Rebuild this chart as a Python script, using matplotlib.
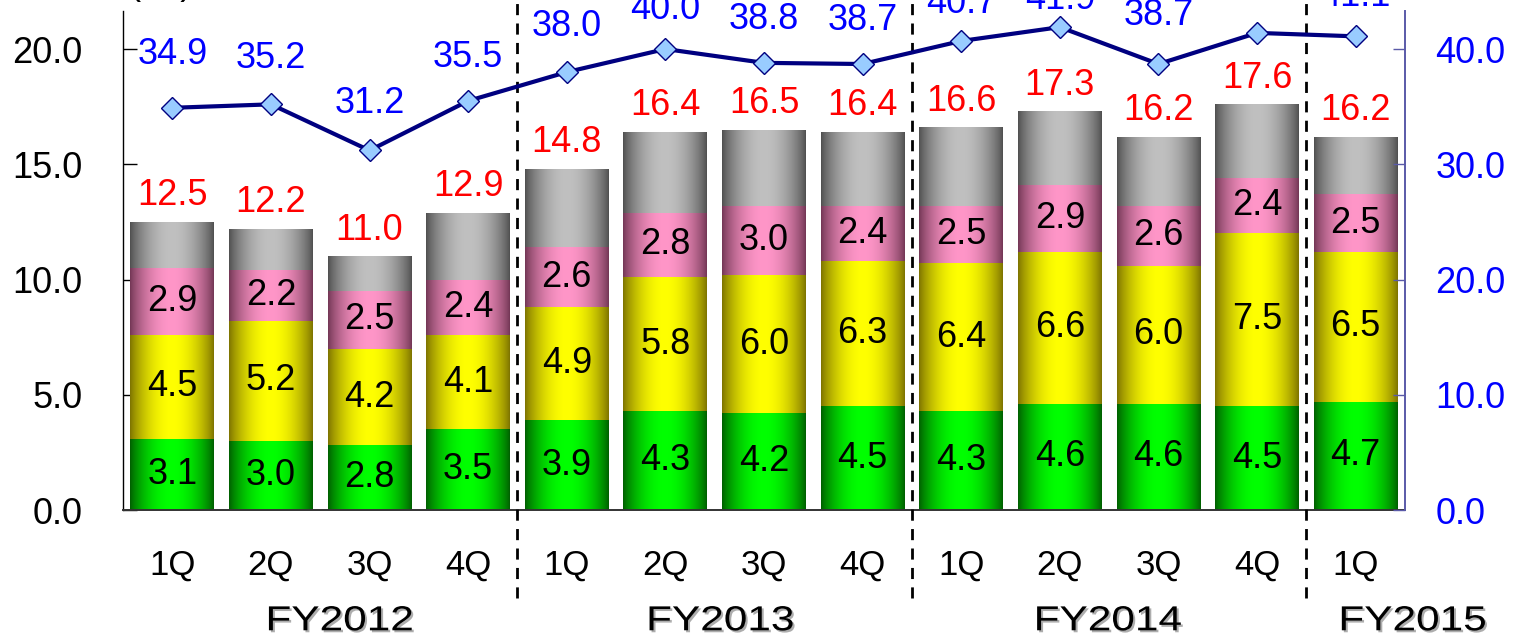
import numpy as np
import matplotlib
matplotlib.use("Agg")
import matplotlib.pyplot as plt
import matplotlib.patheffects as pe
from matplotlib.transforms import Affine2D

plt.rcParams['font.family'] = ['Liberation Sans', 'DejaVu Sans']

# ---- data ----
quarters = ["1Q", "2Q", "3Q", "4Q", "1Q", "2Q", "3Q", "4Q", "1Q", "2Q", "3Q", "4Q", "1Q"]
fiscal_years = ["FY2012", "FY2013", "FY2014", "FY2015"]
seg_green = [3.1, 3.0, 2.8, 3.5, 3.9, 4.3, 4.2, 4.5, 4.3, 4.6, 4.6, 4.5, 4.7]
seg_yellow = [4.5, 5.2, 4.2, 4.1, 4.9, 5.8, 6.0, 6.3, 6.4, 6.6, 6.0, 7.5, 6.5]
seg_pink = [2.9, 2.2, 2.5, 2.4, 2.6, 2.8, 3.0, 2.4, 2.5, 2.9, 2.6, 2.4, 2.5]
seg_gray = [2.0, 1.8, 1.5, 2.9, 3.4, 3.5, 3.3, 3.2, 3.4, 3.2, 3.0, 3.2, 2.5]
totals = [12.5, 12.2, 11.0, 12.9, 14.8, 16.4, 16.5, 16.4, 16.6, 17.3, 16.2, 17.6, 16.2]
ratio = [34.9, 35.2, 31.2, 35.5, 38.0, 40.0, 38.8, 38.7, 40.7, 41.9, 38.7, 41.4, 41.1]

# label placement (pixels above the marker) - styling only
ratio_label_gap_px = [44, 36, 37, 34, 36, 30, 34, 34, 28, 18, 39, 36, 30]

W, H = 1513, 640
fig = plt.figure(figsize=(W / 100, H / 100), dpi=100)
ax = fig.add_axes([123 / W, 130 / H, (1405 - 123) / W, 499 / H])
ax2 = ax.twinx()

x = np.arange(len(quarters))
FS = 26
PX2PT = 72 / 100


class StretchShadow(pe.AbstractPathEffect):
    """Horizontally stretch a text path about its centre and add a drop shadow."""

    def __init__(self, sx=1.0, shadow=(0.68, 0.68, 0.68), offset=(2, -2)):
        super().__init__()
        self.sx = sx
        self.shadow = shadow
        self.off = offset

    def draw_path(self, renderer, gc, tpath, affine, rgbFace=None):
        ext = affine.transform_path(tpath).get_extents()
        cx = 0.5 * (ext.x0 + ext.x1)
        new_aff = affine + Affine2D().translate(-cx, 0).scale(self.sx, 1).translate(cx, 0)
        gc0 = renderer.new_gc()
        gc0.copy_properties(gc)
        gc0.set_foreground(self.shadow)
        renderer.draw_path(gc0, tpath, new_aff + Affine2D().translate(*self.off), self.shadow)
        gc0.restore()
        renderer.draw_path(gc, tpath, new_aff, rgbFace)


def gradient(dark, light, n=128):
    t = np.linspace(0, 1, n)
    w = np.sin(np.pi * t) ** 0.8
    dark = np.array(dark) / 255.0
    light = np.array(light) / 255.0
    g = dark[None, :] + (light - dark)[None, :] * w[:, None]
    return g[None, :, :]


series = [
    (seg_green, (0, 95, 0), (0, 255, 0), True),
    (seg_yellow, (125, 115, 0), (255, 255, 0), True),
    (seg_pink, (115, 55, 85), (255, 150, 200), True),
    (seg_gray, (80, 80, 80), (192, 192, 192), False),
]

bottom = np.zeros(len(x))
for vals, dark, light, show in series:
    vals = np.array(vals)
    bars = ax.bar(x, vals, bottom=bottom, width=0.85,
                  color=np.array(light) / 255.0, zorder=2, linewidth=0)
    grad = gradient(dark, light)
    for b in bars:
        xb, yb, wb, hb = b.get_x(), b.get_y(), b.get_width(), b.get_height()
        im = ax.imshow(grad, extent=[xb, xb + wb, yb, yb + hb], aspect='auto',
                       zorder=2.5, interpolation='bilinear')
        im.set_clip_path(b)
    if show:
        for xi, bt, v in zip(x, bottom, vals):
            ax.text(xi, bt + v / 2, f"{v:.1f}", ha='center', va='center',
                    fontsize=FS, color='black', zorder=4)
    bottom = bottom + vals

# totals
for xi, t in zip(x, totals):
    ax.annotate(f"{t:.1f}", (xi, t), xytext=(0, 12), textcoords='offset points',
                ha='center', va='baseline', fontsize=FS, color='red', zorder=4)

# line on secondary axis
ax2.plot(x, ratio, color='#000080', lw=3, marker='D', ms=11.5,
         markerfacecolor='#99ccff', markeredgecolor='#000080', markeredgewidth=1, zorder=5)
for xi, r, g in zip(x, ratio, ratio_label_gap_px):
    ax2.annotate(f"{r:.1f}", (xi, r), xytext=(0, g * PX2PT), textcoords='offset points',
                 ha='center', va='baseline', fontsize=FS, color='#0000ff', zorder=6)

ax.set_xlim(-0.5, 12.5)
ax.set_ylim(0, 21.65)
ax2.set_ylim(0, 43.3)

ax.set_yticks([0, 5, 10, 15, 20])
ax.set_yticklabels([f"{v:.1f}" for v in [0, 5, 10, 15, 20]], fontsize=FS)
ax2.set_yticks([0, 10, 20, 30, 40])
ax2.set_yticklabels([f"{v:.1f}" for v in [0, 10, 20, 30, 40]], fontsize=FS, color='#0000ff')

ax.set_xticks(x)
ax.set_xticklabels(quarters, fontsize=25)
ax.tick_params(axis='x', length=0, pad=28)
ax.tick_params(axis='y', direction='in', length=10, width=1, pad=29, colors='black')
ax2.tick_params(axis='y', direction='in', length=9, width=1, pad=22, color='#5a5aa8',
                labelcolor='#0000ff')

for a in (ax, ax2):
    a.spines['top'].set_visible(False)
ax.spines['right'].set_visible(False)
ax2.spines['left'].set_visible(False)
ax2.spines['bottom'].set_visible(False)
ax.spines['left'].set_linewidth(1)
ax.spines['bottom'].set_linewidth(1.4)
ax.spines['bottom'].set_color('#333333')
ax2.spines['right'].set_color('#5a5aa8')
ax2.spines['right'].set_linewidth(1.4)

# separators
for sx in [3.5, 7.5, 11.5]:
    ax.plot([sx, sx], [-0.177, 1.03], transform=ax.get_xaxis_transform(), clip_on=False,
            ls=(0, (4, 3)), color='black', lw=2, zorder=3)

# fiscal year labels
fy_pos = [1.70, 5.56, 9.49, 12.58]
for fx, lab in zip(fy_pos, fiscal_years):
    ax.text(fx, -0.222, lab, transform=ax.get_xaxis_transform(), ha='center', va='center',
            fontsize=25, color='black', path_effects=[StretchShadow(sx=1.22)])

# unit label (mostly clipped at the top edge)
fig.text(161 / W, 1 + 6 / H, "(bn)", ha='center', va='baseline', fontsize=FS)

fig.savefig("out.png", dpi=100)
